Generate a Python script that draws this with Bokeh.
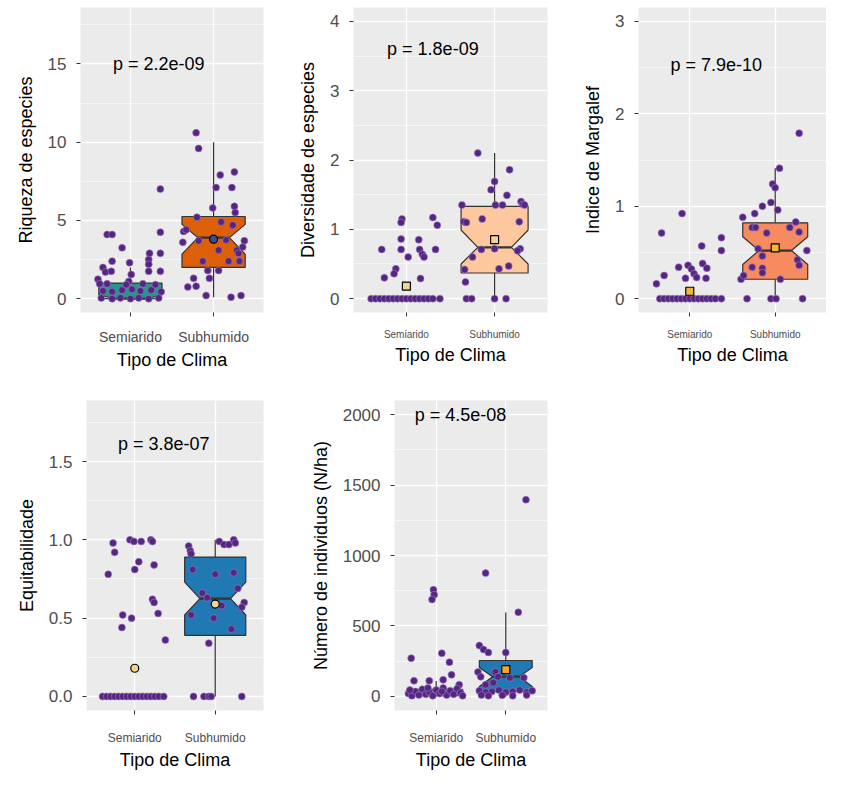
from bokeh.plotting import figure
from bokeh.layouts import column, row
from bokeh.models import FixedTicker, Range1d, NumeralTickFormatter
from bokeh.core.properties import value
from bokeh.embed import file_html
from bokeh.resources import INLINE

FONT = "Liberation Sans"
categories = ["Semiarido", "Subhumido"]
x_title = "Tipo de Clima"

# ---------------- Panel 1: Riqueza de especies ----------------
rich_title = "Riqueza de especies"
rich_p = "p = 2.2e-09"
rich_p_pos = [1.34, 15.0]
rich_semi_dx = [-0.28, -0.22, 0.36, 0.36, -0.10, 0.23, 0.36, 0.22, 0.22, 0.22, -0.22, -0.01, 0.36,
                -0.33, -0.30, -0.23, -0.39, -0.37, 0.01, -0.02,
                -0.33, -0.22, -0.10, 0.02, 0.12, 0.25, 0.37,
                -0.35, -0.22, -0.12, 0.00, 0.10, 0.22, 0.34,
                -0.28, -0.05, 0.15, 0.30]
rich_semi_y = [4.1, 4.1, 4.25, 7.0, 3.25, 2.9, 2.9, 2.5, 2.2, 1.75, 2.4, 2.3, 1.75,
               2.0, 1.7, 1.75, 1.25, 0.95, 1.55, 1.1,
               0.5, 0.45, 0.55, 0.6, 0.5, 0.55, 0.45,
               0.05, 0.0, 0.05, 0.0, 0.05, 0.0, 0.05,
               0.95, 0.9, 0.95, 0.9]
rich_sub_dx = [-0.21, -0.18, 0.08, 0.25, 0.03, 0.22, -0.01, 0.25, 0.26, -0.20, -0.36, -0.37, -0.18,
               0.15, 0.37, 0.06, 0.28, -0.13, 0.18, 0.31, -0.07, 0.06, -0.24, -0.05, -0.31, -0.21,
               -0.09, 0.21, 0.33, 0.23, 0.09, -0.33, 0.30, 0.35]
rich_sub_y = [10.6, 9.6, 7.9, 8.1, 7.1, 7.1, 5.8, 5.9, 5.5, 5.2, 4.3, 3.6, 3.7,
              3.75, 3.7, 3.1, 3.1, 2.4, 2.4, 2.4, 1.8, 1.8, 1.3, 1.3, 0.75, 0.8,
              0.2, 0.1, 0.2, 4.7, 4.9, 4.4, 2.9, 3.3]
rich_box = {"q1": [0.0, 2.0], "med": [0.0, 3.9], "q3": [1.0, 5.25],
            "nlo": [0.0, 2.85], "nhi": [0.25, 4.75], "wlo": [0.0, 0.1], "whi": [2.0, 10.0]}
rich_mean = [float("nan"), 3.8]
rich_fill = ["#23978E", "#DD5F08"]
rich_mean_fill = "#3B4F8F"
rich_yticks = [0, 5, 10, 15]
rich_yminor = [2.5, 7.5, 12.5, 17.5]
rich_yrange = (-0.88, 18.6)

# ---------------- Panel 2: Diversidade de especies ----------------
div_title = "Diversidade de especies"
div_p = "p = 1.8e-09"
div_p_pos = [1.3, 3.6]
div_semi_dx = [-0.05, -0.06, 0.30, 0.35, -0.06, 0.14, -0.28, -0.06, 0.15, 0.18, 0.20, 0.33, 0.02,
               -0.12, -0.14, -0.25, 0.16,
               -0.40, -0.35, -0.30, -0.25, -0.20, -0.15, -0.10, -0.05, 0.00, 0.05, 0.10, 0.15,
               0.20, 0.25, 0.30, 0.38]
div_semi_y = [1.15, 1.1, 1.17, 1.06, 0.86, 0.85, 0.71, 0.71, 0.71, 0.64, 0.6, 0.71, 0.6,
              0.43, 0.36, 0.3, 0.29,
              0, 0, 0, 0, 0, 0, 0, 0, 0, 0, 0, 0, 0, 0, 0, 0]
div_sub_dx = [-0.19, 0.17, 0.00, -0.04, 0.14, -0.37, 0.01, 0.09, 0.30, 0.32, 0.34, -0.35, -0.32,
              -0.14, 0.28, -0.15, 0.00, 0.29, 0.26, -0.25, -0.34, 0.05, 0.16, -0.33, -0.32,
              -0.26, 0.00, 0.13]
div_sub_y = [2.1, 1.86, 1.69, 1.57, 1.49, 1.35, 1.35, 1.35, 1.4, 1.36, 1.35, 1.11, 1.1,
             1.15, 1.11, 0.71, 0.72, 0.72, 0.69, 0.6, 0.42, 0.43, 0.47, 0.24, 0.0,
             0.0, 0.0, 0.0]
div_box = {"q1": [0.0, 0.37], "med": [0.0, 0.74], "q3": [0.0, 1.33],
           "nlo": [0.0, 0.5], "nhi": [0.0, 0.99], "wlo": [0.0, 0.0], "whi": [0.0, 2.1]}
div_mean = [0.18, 0.85]
div_fill = ["#FDC89E", "#FDC89E"]
div_mean_fill = "#F1D58E"
div_yticks = [0, 1, 2, 3, 4]
div_yminor = [0.5, 1.5, 2.5, 3.5]
div_yrange = (-0.2, 4.2)

# ---------------- Panel 3: Indice de Margalef ----------------
mar_title = "Indice de Margalef"
mar_p = "p = 7.9e-10"
mar_p_pos = [1.31, 2.53]
mar_semi_dx = [-0.09, -0.33, 0.37, 0.37, 0.14, -0.02, 0.02, 0.05, 0.08, -0.13, 0.15, 0.20, -0.30,
               -0.39, -0.05, 0.19,
               -0.35, -0.30, -0.25, -0.20, -0.15, -0.10, -0.05, 0.00, 0.05, 0.10, 0.15, 0.20,
               0.25, 0.30, 0.37]
mar_semi_y = [0.92, 0.71, 0.66, 0.52, 0.57, 0.36, 0.32, 0.27, 0.23, 0.34, 0.38, 0.33, 0.25,
              0.16, 0.22, 0.22,
              0, 0, 0, 0, 0, 0, 0, 0, 0, 0, 0, 0, 0, 0, 0]
mar_sub_dx = [0.28, 0.05, -0.03, 0.00, -0.05, 0.03, -0.15, -0.24, -0.38, -0.27, -0.23, -0.10, 0.17,
              0.24, 0.28, -0.20, -0.15, 0.37, 0.26, 0.28, -0.27, -0.15, -0.15, -0.40, -0.37,
              0.06, -0.33, -0.05, 0.01, 0.32]
mar_sub_y = [1.79, 1.41, 1.24, 1.2, 1.04, 0.96, 1.0, 0.92, 0.88, 0.77, 0.77, 0.71, 0.77,
             0.83, 0.72, 0.54, 0.46, 0.52, 0.42, 0.36, 0.34, 0.33, 0.28, 0.21, 0.25,
             0.21, 0.0, 0.0, 0.0, 0.0]
mar_box = {"q1": [0.0, 0.21], "med": [0.0, 0.52], "q3": [0.0, 0.82],
           "nlo": [0.0, 0.37], "nhi": [0.0, 0.67], "wlo": [0.0, 0.0], "whi": [0.0, 1.41]}
mar_mean = [0.08, 0.55]
mar_fill = ["#F58B5E", "#F58B5E"]
mar_mean_fill = "#F2B43C"
mar_yticks = [0, 1, 2, 3]
mar_yminor = [0.5, 1.5, 2.5]
mar_yrange = (-0.15, 3.15)

# ---------------- Panel 4: Equitabilidade ----------------
eq_title = "Equitabilidade"
eq_p = "p = 3.8e-07"
eq_p_pos = [1.36, 1.61]
eq_semi_dx = [-0.06, -0.01, 0.08, 0.20, 0.22, -0.27, -0.25, 0.05, 0.00, 0.24, -0.33, 0.22, 0.24,
              0.29, -0.15, -0.04, -0.16, 0.38,
              -0.40, -0.35, -0.30, -0.25, -0.20, -0.15, -0.10, -0.05, 0.00, 0.05, 0.10, 0.15,
              0.20, 0.25, 0.30, 0.36]
eq_semi_y = [1.0, 0.99, 0.99, 1.0, 0.99, 0.98, 0.92, 0.86, 0.81, 0.84, 0.78, 0.62, 0.6,
             0.53, 0.52, 0.5, 0.44, 0.36,
             0, 0, 0, 0, 0, 0, 0, 0, 0, 0, 0, 0, 0, 0, 0, 0]
eq_sub_dx = [-0.33, -0.31, -0.30, 0.05, 0.11, 0.17, 0.23, 0.25, -0.28, 0.00, 0.23, 0.28, -0.16,
             -0.10, 0.36, 0.33, 0.08, -0.30, -0.02, 0.20, -0.08, -0.27, -0.14, -0.08, -0.05, 0.33]
eq_sub_y = [0.96, 0.93, 0.91, 0.99, 0.97, 0.97, 1.0, 0.98, 0.81, 0.78, 0.79, 0.69, 0.66,
            0.63, 0.6, 0.57, 0.58, 0.52, 0.5, 0.43, 0.34, 0.0, 0.0, 0.0, 0.0, 0.0]
eq_box = {"q1": [0.0, 0.39], "med": [0.0, 0.625], "q3": [0.0, 0.89],
          "nlo": [0.0, 0.52], "nhi": [0.0, 0.73], "wlo": [0.0, 0.0], "whi": [0.0, 1.0]}
eq_mean = [0.18, 0.59]
eq_fill = ["#2179B3", "#2179B3"]
eq_mean_fill = "#F1D58E"
eq_yticks = [0, 0.5, 1.0, 1.5]
eq_yminor = [0.25, 0.75, 1.25, 1.75]
eq_yrange = (-0.09, 1.89)

# ---------------- Panel 5: Numero de individuos ----------------
num_title = "Número de individuos (N/ha)"
num_p = "p = 4.5e-08"
num_p_pos = [1.35, 2000]
num_semi_dx = [-0.04, -0.03, -0.06, -0.36, 0.08, 0.19, 0.22, -0.32, -0.10, 0.10, 0.33,
               -0.40, -0.35, -0.30, -0.25, -0.20, -0.15, -0.10, -0.05, 0.00, 0.05, 0.10, 0.15,
               0.20, 0.25, 0.30, 0.35, 0.38, -0.38, -0.12, 0.08]
num_semi_y = [757, 722, 688, 271, 306, 243, 153, 111, 111, 118, 83,
              20, 5, 35, 10, 50, 15, 30, 5, 45, 20, 60, 10,
              40, 15, 55, 25, 5, 45, 60, 35]
num_sub_dx = [-0.29, 0.18, 0.29, -0.38, -0.32, -0.25, 0.00, -0.40, -0.36, -0.15, -0.11, 0.06, 0.26,
              -0.29, -0.18, -0.38, -0.29, -0.20, -0.10, 0.00, 0.10, 0.20, 0.30, 0.38, -0.35,
              -0.25, -0.05, 0.10, 0.30]
num_sub_y = [875, 597, 1396, 361, 333, 312, 312, 174, 139, 174, 139, 132, 132,
             83, 97, 40, 30, 35, 45, 30, 35, 45, 30, 40, 10,
             5, 8, 5, 10]
num_box = {"q1": [5, 35], "med": [20, 140], "q3": [50, 255],
           "nlo": [12, 70], "nhi": [28, 205], "wlo": [0, 0], "whi": [110, 595]}
num_mean = [float("nan"), 190]
num_fill = ["#2179B3", "#2179B3"]
num_mean_fill = "#F5A623"
num_yticks = [0, 500, 1000, 1500, 2000]
num_yminor = [250, 750, 1250, 1750]
num_yrange = (-100, 2100)

POINT_FILL = "#55267F"
POINT_LINE = "#9C7CC4"
BOX_LINE = "#333333"
HALF_W = 0.38
NOTCH_W = 0.5


def make_panel(title, ptext, ppos, sdx, sy, bdx, by, box, means, fills, mfill, mshape,
               yticks, yminor, yrange, yfmt, width, height, left, right, top, bottom,
               xlab_size, xlab_standoff):
    p = figure(width=width, height=height, x_range=Range1d(0.4, 2.6),
               y_range=Range1d(*yrange), output_backend="svg", toolbar_location=None,
               min_border_left=left, min_border_right=right, min_border_top=top,
               min_border_bottom=bottom)
    p.background_fill_color = "#EBEBEB"
    p.border_fill_color = "white"
    p.outline_line_color = None

    p.xaxis.ticker = FixedTicker(ticks=[1, 2])
    p.xaxis.major_label_overrides = {1: categories[0], 2: categories[1]}
    p.yaxis.ticker = FixedTicker(ticks=yticks, minor_ticks=yminor)
    if yfmt:
        p.yaxis.formatter = NumeralTickFormatter(format=yfmt)
    for ax in (p.xaxis[0], p.yaxis[0]):
        ax.axis_line_color = None
        ax.major_tick_line_color = "#333333"
        ax.major_tick_out = 4
        ax.major_tick_in = 0
        ax.minor_tick_out = 0
        ax.minor_tick_in = 0
        ax.major_label_text_color = "#4D4D4D"
        ax.major_label_text_font = FONT
        ax.axis_label_text_font = FONT
        ax.axis_label_text_font_style = "normal"
        ax.axis_label_text_color = "black"
        ax.axis_label_text_font_size = "18px"
    p.xaxis.axis_label = x_title
    p.yaxis.axis_label = title
    p.xaxis.major_label_text_font_size = xlab_size
    p.xaxis.major_label_standoff = xlab_standoff
    p.xaxis.axis_label_standoff = 2
    p.yaxis.major_label_text_font_size = "17px"
    p.yaxis.major_label_standoff = 10
    p.yaxis.axis_label_standoff = 9

    p.grid.grid_line_color = "white"
    p.grid.grid_line_width = 1.3
    p.ygrid.minor_grid_line_color = "white"
    p.ygrid.minor_grid_line_width = 0.6

    # boxes
    for i in range(2):
        xc = i + 1
        q1, med, q3 = box["q1"][i], box["med"][i], box["q3"][i]
        nlo, nhi = box["nlo"][i], box["nhi"][i]
        p.segment(x0=[xc, xc], y0=[q3, q1], x1=[xc, xc], y1=[box["whi"][i], box["wlo"][i]],
                  line_color=BOX_LINE, line_width=1.2)
        xl, xr = xc - HALF_W, xc + HALF_W
        il, ir = xc - HALF_W * NOTCH_W, xc + HALF_W * NOTCH_W
        xs = [xl, xl, il, xl, xl, xr, xr, ir, xr, xr]
        ys = [q1, nlo, med, nhi, q3, q3, nhi, med, nlo, q1]
        p.patch(xs, ys, fill_color=fills[i], line_color=BOX_LINE, line_width=1.2)
        p.segment(x0=[il], y0=[med], x1=[ir], y1=[med], line_color=BOX_LINE, line_width=2.2)

    # points
    xs = [1 + d for d in sdx] + [2 + d for d in bdx]
    ys = list(sy) + list(by)
    p.scatter(xs, ys, size=7, fill_color=POINT_FILL, line_color=POINT_LINE,
              line_width=1, line_alpha=0.6)

    # means
    p.scatter([1, 2], means, size=8, marker=mshape, fill_color=mfill, line_color="black",
              line_width=1.2)

    p.text(x=[ppos[0]], y=[ppos[1]], text=[ptext], text_font=value(FONT),
           text_font_size="18px", text_align="center", text_baseline="middle",
           text_color="black")
    return p


p1 = make_panel(rich_title, rich_p, rich_p_pos, rich_semi_dx, rich_semi_y, rich_sub_dx, rich_sub_y,
                rich_box, rich_mean, rich_fill, rich_mean_fill, "circle",
                rich_yticks, rich_yminor, rich_yrange, None,
                277, 377, 80, 14, 7, 65, "14px", 12)
p2 = make_panel(div_title, div_p, div_p_pos, div_semi_dx, div_semi_y, div_sub_dx, div_sub_y,
                div_box, div_mean, div_fill, div_mean_fill, "square",
                div_yticks, div_yminor, div_yrange, None,
                272, 377, 76, 2, 5, 63, "10px", 12)
p3 = make_panel(mar_title, mar_p, mar_p_pos, mar_semi_dx, mar_semi_y, mar_sub_dx, mar_sub_y,
                mar_box, mar_mean, mar_fill, mar_mean_fill, "square",
                mar_yticks, mar_yminor, mar_yrange, None,
                277, 377, 89, 0, 5, 63, "10px", 12)
p4 = make_panel(eq_title, eq_p, eq_p_pos, eq_semi_dx, eq_semi_y, eq_sub_dx, eq_sub_y,
                eq_box, eq_mean, eq_fill, eq_mean_fill, "circle",
                eq_yticks, eq_yminor, eq_yrange, "0.0",
                277, 397, 86, 14, 23, 64, "12px", 16)
p5 = make_panel(num_title, num_p, num_p_pos, num_semi_dx, num_semi_y, num_sub_dx, num_sub_y,
                num_box, num_mean, num_fill, num_mean_fill, "square",
                num_yticks, num_yminor, num_yrange, None,
                272, 397, 117, 2, 23, 64, "12px", 16)

layout = column(row(p1, p2, p3), row(p4, p5))
open("out.html", "w").write(file_html(layout, INLINE))
